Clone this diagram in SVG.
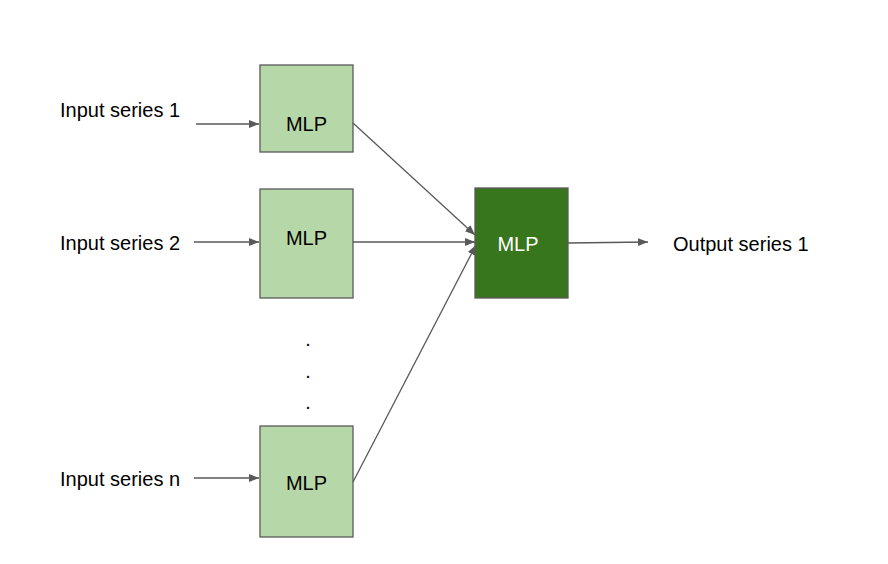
<svg xmlns="http://www.w3.org/2000/svg" width="888" height="564" viewBox="0 0 888 564">
<style>
text{font-family:"Liberation Sans",Arial,sans-serif;font-size:20px;fill:#000}
.light{fill:#b6d7a8;stroke:#595959;stroke-width:1.3}
.dark{fill:#38761d;stroke:#595959;stroke-width:1.3}
.c line{stroke:#595959;stroke-width:1.3;fill:none;marker-end:url(#ah)}
.mid{text-anchor:middle}
</style>
<defs>
<marker id="ah" viewBox="0 0 10 10" refX="10" refY="5" markerWidth="10" markerHeight="10" markerUnits="userSpaceOnUse" orient="auto">
<path d="M0,1 L10,5 L0,9 Z" fill="#595959"/>
</marker>
</defs>
<rect width="888" height="564" fill="#fff"/>
<g id="label-in1"><text x="60" y="116.5">Input series 1</text></g>
<g id="label-in2"><text x="60" y="250">Input series 2</text></g>
<g id="label-inn"><text x="60" y="486">Input series n</text></g>
<g id="label-out"><text x="673" y="251">Output series 1</text></g>
<g id="mlp1"><rect class="light" x="260" y="65" width="93" height="87"/><text class="mid" x="306.5" y="131">MLP</text></g>
<g id="mlp2"><rect class="light" x="260" y="189" width="93" height="109"/><text class="mid" x="306.5" y="245">MLP</text></g>
<g id="mlpn"><rect class="light" x="260" y="426" width="93" height="111"/><text class="mid" x="306.5" y="490">MLP</text></g>
<g id="mlp-out"><rect class="dark" x="475" y="188" width="93" height="110"/><text class="mid" x="518" y="251" style="fill:#fff">MLP</text></g>
<g id="dots"><text class="mid" x="308" y="346">.</text><text class="mid" x="308" y="378">.</text><text class="mid" x="308" y="409">.</text></g>
<g id="connectors" class="c">
<line x1="196" y1="124" x2="259" y2="124"/>
<line x1="194" y1="242" x2="259" y2="242"/>
<line x1="194" y1="478" x2="259" y2="478"/>
<line x1="353" y1="123" x2="475" y2="235"/>
<line x1="353" y1="242" x2="475" y2="242"/>
<line x1="353" y1="482" x2="476" y2="245"/>
<line x1="568" y1="243" x2="648" y2="242"/>
</g>
</svg>
